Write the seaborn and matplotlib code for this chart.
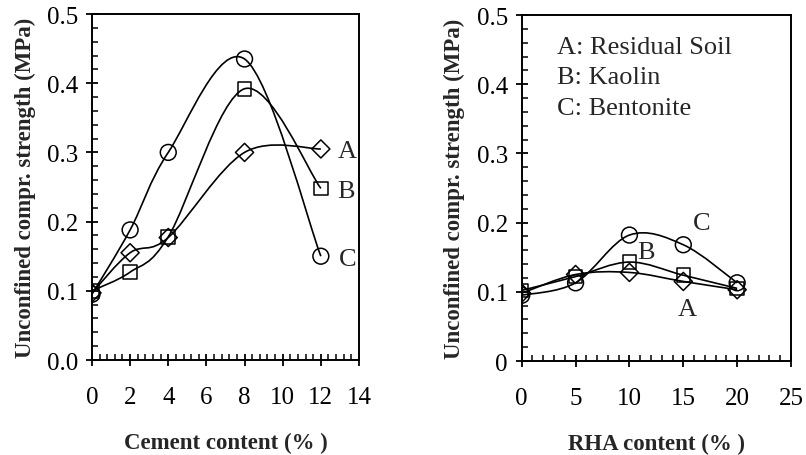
import matplotlib

matplotlib.use("Agg")
import matplotlib.pyplot as plt  # noqa: E402
import numpy as np  # noqa: E402
import pandas as pd  # noqa: E402
import seaborn as sns  # noqa: E402
from matplotlib.patches import PathPatch  # noqa: E402
from matplotlib.path import Path  # noqa: E402
from matplotlib.ticker import MultipleLocator, FormatStrFormatter  # noqa: E402

# cement panel
cement_x = [0, 2, 4, 8, 12]
cement_a = [0.097, 0.155, 0.177, 0.300, 0.305]  # residual soil
cement_b = [0.100, 0.127, 0.178, 0.392, 0.248]  # kaolin
cement_c = [0.095, 0.188, 0.300, 0.435, 0.150]  # bentonite

# RHA panel
rha_x = [0, 5, 10, 15, 20]
rha_a = [0.098, 0.125, 0.128, 0.115, 0.103]
rha_b = [0.102, 0.122, 0.143, 0.124, 0.105]
rha_c = [0.095, 0.113, 0.182, 0.168, 0.113]

soil_names = ["A: Residual Soil", "B: Kaolin", "C: Bentonite"]
markers = {"A": "D", "B": "s", "C": "o"}
marker_sizes = {"A": 85, "B": 95, "C": 130}

sns.set_theme(style="ticks")
plt.rcParams["font.family"] = ["Liberation Serif", "DejaVu Serif"]


def smooth_path(xs, ys):
    # excel-like smoothed line: cubic bezier through every point
    pts = np.column_stack([xs, ys]).astype(float)
    n = len(pts)
    verts = [pts[0]]
    codes = [Path.MOVETO]
    for i in range(n - 1):
        p_prev = pts[i - 1] if i > 0 else pts[i]
        p_next = pts[i + 2] if i + 2 < n else pts[i + 1]
        c1 = pts[i] + (pts[i + 1] - p_prev) / 6
        c2 = pts[i + 1] - (p_next - pts[i]) / 6
        verts += [c1, c2, pts[i + 1]]
        codes += [Path.CURVE4] * 3
    return Path(verts, codes)


def draw_panel(ax, xs, series, xmax, xmajor, xminor):
    for key, ys in series.items():
        ax.add_patch(PathPatch(smooth_path(xs, ys), fill=False,
                               edgecolor="black", lw=1.2, zorder=2))
        df = pd.DataFrame({"x": xs, "y": ys})
        sns.scatterplot(data=df, x="x", y="y", marker=markers[key],
                        s=marker_sizes[key], facecolors="none",
                        edgecolor="black", linewidth=1.1, ax=ax, zorder=3)
    ax.set_xlim(0, xmax)
    ax.set_ylim(0, 0.5)
    ax.xaxis.set_major_locator(MultipleLocator(xmajor))
    ax.xaxis.set_minor_locator(MultipleLocator(xminor))
    ax.yaxis.set_major_locator(MultipleLocator(0.1))
    ax.yaxis.set_minor_locator(MultipleLocator(0.02))
    ax.tick_params(which="major", direction="inout", length=8, width=1.3,
                   labelsize=18, colors="black")
    ax.tick_params(axis="x", which="major", pad=15)
    ax.tick_params(axis="y", which="major", pad=6)
    ax.tick_params(which="minor", direction="in", length=4, width=1.3)
    ax.tick_params(top=False, right=False, which="both")
    for sp in ax.spines.values():
        sp.set_linewidth(1.4)
        sp.set_color("black")
        sp.set_visible(True)
    ax.set_ylabel("Unconfined compr. strength (MPa)", fontsize=16.5,
                  fontweight="bold", labelpad=8)


fig = plt.figure(figsize=(8.06, 4.56), dpi=100)
ax1 = fig.add_axes([0.1141, 0.2083, 0.3313, 0.7588])
ax2 = fig.add_axes([0.6473, 0.2061, 0.3341, 0.7588])

draw_panel(ax1, cement_x, {"A": cement_a, "B": cement_b, "C": cement_c},
           14, 2, 0.4)
ax1.yaxis.set_major_formatter(FormatStrFormatter("%.1f"))
ax1.set_xlabel("Cement content (% )", fontsize=16.5, fontweight="bold",
               labelpad=17)
ax1.text(13.4, 0.302, "A", fontsize=19, ha="center", va="center")
ax1.text(13.3, 0.244, "B", fontsize=19, ha="center", va="center")
ax1.text(13.4, 0.146, "C", fontsize=19, ha="center", va="center")

draw_panel(ax2, rha_x, {"A": rha_a, "B": rha_b, "C": rha_c}, 25, 5, 1)
ax2.yaxis.set_major_formatter(
    plt.FuncFormatter(lambda v, p: "0" if abs(v) < 1e-9 else f"{v:.1f}"))
ax2.set_xlabel("RHA content (% )", fontsize=16.5, fontweight="bold",
               labelpad=17)
ax2.text(16.7, 0.199, "C", fontsize=19, ha="center", va="center")
ax2.text(11.5, 0.157, "B", fontsize=19, ha="center", va="center")
ax2.text(15.4, 0.075, "A", fontsize=19, ha="center", va="center")
for i, name in enumerate(soil_names):
    ax2.text(3.3, 0.454 - 0.044 * i, name, fontsize=19, ha="left",
             va="center")

fig.savefig("out.png", dpi=100)
